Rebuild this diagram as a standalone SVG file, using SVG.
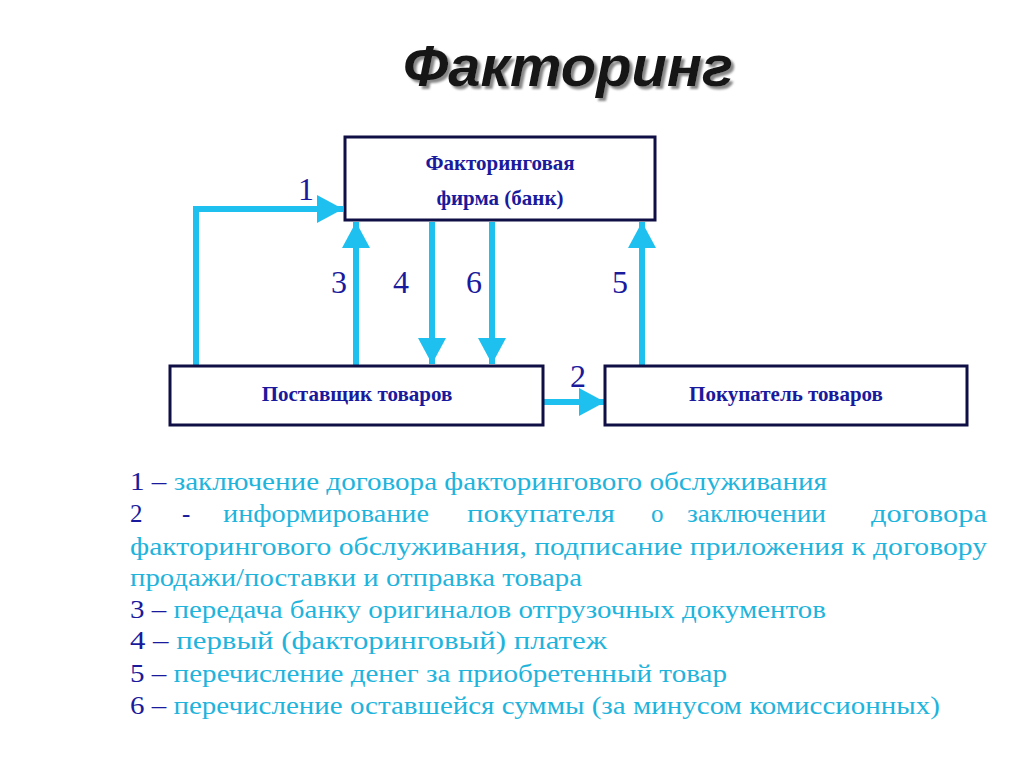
<svg xmlns="http://www.w3.org/2000/svg" width="1024" height="767" viewBox="0 0 1024 767">
<style>
.box{fill:#fff;stroke:#0f0f45;stroke-width:3}
.bt{font-family:"Liberation Serif","Times New Roman","DejaVu Serif",serif;font-weight:bold;font-size:21px;fill:#1a1a9c;text-anchor:middle}
.num{font-family:"Liberation Serif","Times New Roman","DejaVu Serif",serif;font-size:32px;fill:#1a1a9c;text-anchor:middle}
.c{stroke:#1ec0f0;stroke-width:6;fill:none}
.lt{font-family:"Liberation Serif","Times New Roman","DejaVu Serif",serif;font-size:25px;fill:#1fb4dc}
.n{fill:#1a1a9c}
</style>
<defs>
<marker id="ah" markerUnits="userSpaceOnUse" markerWidth="28" markerHeight="28" refX="26" refY="14" orient="auto"><path d="M0,0 L26,14 L0,28 Z" fill="#1ec0f0"/></marker>
<filter id="sh" x="-10%" y="-20%" width="120%" height="140%"><feDropShadow dx="3" dy="3" stdDeviation="1" flood-color="#888"/></filter>
</defs>
<rect width="1024" height="767" fill="#fff"/>
<text x="568" y="86" font-family="Liberation Sans,sans-serif" font-weight="bold" font-style="italic" font-size="58" fill="#151515" text-anchor="middle" filter="url(#sh)">Факторинг</text>
<g id="connectors">
<path class="c" d="M196,366 V209 H343" marker-end="url(#ah)"/>
<path class="c" d="M356,366 V222" marker-end="url(#ah)"/>
<path class="c" d="M432,222 V364" marker-end="url(#ah)"/>
<path class="c" d="M492,222 V364" marker-end="url(#ah)"/>
<path class="c" d="M642,366 V222" marker-end="url(#ah)"/>
<path class="c" d="M543,402 H605" marker-end="url(#ah)"/>
<text class="num" x="306" y="200">1</text>
<text class="num" x="578" y="387">2</text>
<text class="num" x="339" y="293">3</text>
<text class="num" x="401" y="293">4</text>
<text class="num" x="474" y="293">6</text>
<text class="num" x="620" y="293">5</text>
</g>
<g id="bank"><rect class="box" x="345" y="137" width="310" height="83"/>
<text class="bt" x="500" y="170">Факторинговая</text><text class="bt" x="500" y="205">фирма (банк)</text></g>
<g id="supplier"><rect class="box" x="170" y="366" width="373" height="59"/>
<text class="bt" x="357" y="401">Поставщик товаров</text></g>
<g id="buyer"><rect class="box" x="605" y="366" width="362" height="59"/>
<text class="bt" x="786" y="401">Покупатель товаров</text></g>
<g id="legend">
<text class="lt" x="130" y="490" textLength="697" lengthAdjust="spacingAndGlyphs"><tspan class="n">1 –</tspan> заключение договора факторингового обслуживания</text>
<text class="lt n" x="130" y="522">2</text>
<text class="lt n" x="182" y="522">-</text>
<text class="lt" x="223" y="522" textLength="206" lengthAdjust="spacingAndGlyphs">информирование</text>
<text class="lt" x="467" y="522" textLength="148" lengthAdjust="spacingAndGlyphs">покупателя</text>
<text class="lt" x="651" y="522">о</text>
<text class="lt" x="687" y="522" textLength="139" lengthAdjust="spacingAndGlyphs">заключении</text>
<text class="lt" x="871" y="522" textLength="116" lengthAdjust="spacingAndGlyphs">договора</text>
<text class="lt" x="130" y="555" textLength="857" lengthAdjust="spacingAndGlyphs">факторингового обслуживания, подписание приложения к договору</text>
<text class="lt" x="130" y="586" textLength="452" lengthAdjust="spacingAndGlyphs">продажи/поставки и отправка товара</text>
<text class="lt" x="130" y="618" textLength="696" lengthAdjust="spacingAndGlyphs"><tspan class="n">3 –</tspan> передача банку оригиналов отгрузочных документов</text>
<text class="lt" x="130" y="649" textLength="477" lengthAdjust="spacingAndGlyphs"><tspan class="n">4 –</tspan> первый (факторинговый) платеж</text>
<text class="lt" x="130" y="682" textLength="597" lengthAdjust="spacingAndGlyphs"><tspan class="n">5 –</tspan> перечисление денег за приобретенный товар</text>
<text class="lt" x="130" y="714" textLength="810" lengthAdjust="spacingAndGlyphs"><tspan class="n">6 –</tspan> перечисление оставшейся суммы (за минусом комиссионных)</text>
</g>
</svg>
